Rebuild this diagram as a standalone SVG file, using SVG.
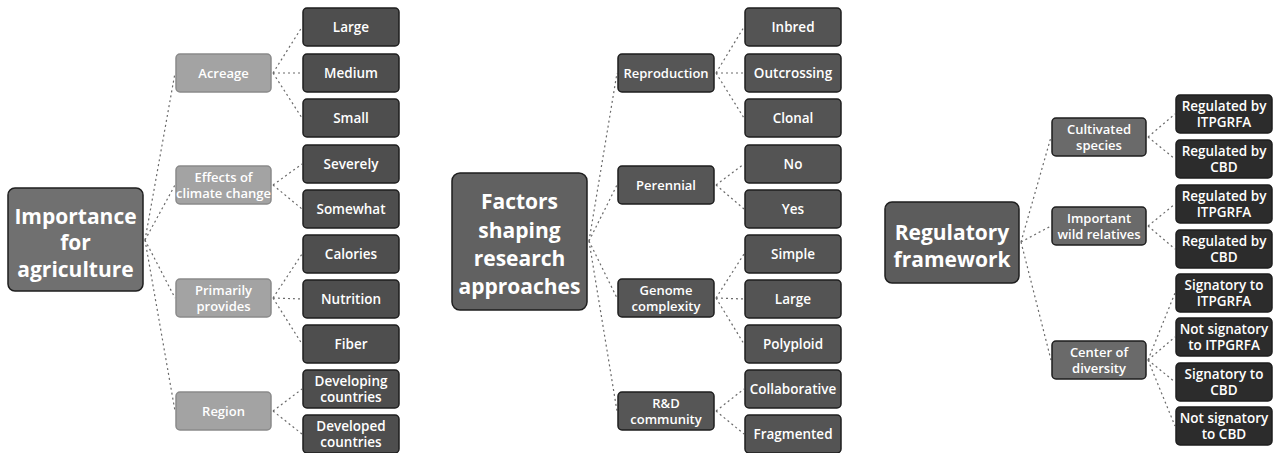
<svg xmlns="http://www.w3.org/2000/svg" width="1274" height="453" viewBox="0 0 1274 453">
<style>
g rect{stroke:#1e1e1e;stroke-width:1.5}
text{font-family:"Open Sans","Liberation Sans",sans-serif;fill:#fff;text-anchor:middle;dominant-baseline:central;font-weight:600}
.root text{font-size:21px;font-weight:700}
.l2 text{font-size:13px}
.lf text{font-size:13.5px}
.lroot rect{fill:#707070}
.ll2 rect{fill:#a3a3a3;stroke:#8a8a8a}
.llf rect{fill:#4e4e4e}
.mroot rect{fill:#616161}
.ml2 rect{fill:#565656}
.mlf rect{fill:#545454}
.rroot rect{fill:#5c5c5c}
.rl2 rect{fill:#6a6a6a}
.rlf rect{fill:#2c2c2c}
#connectors line{stroke:#6a6a6a;stroke-width:1.2;stroke-dasharray:2 3;fill:none}
</style>
<rect width="1274" height="453" style="fill:#fff;stroke:none"/>
<g id="connectors">
<line x1="145" y1="240" x2="175" y2="73"/>
<line x1="145" y1="240" x2="175" y2="185"/>
<line x1="145" y1="240" x2="175" y2="298"/>
<line x1="145" y1="240" x2="175" y2="411"/>
<line x1="273" y1="73" x2="302" y2="27"/>
<line x1="273" y1="73" x2="302" y2="73"/>
<line x1="273" y1="73" x2="302" y2="118"/>
<line x1="273" y1="185" x2="302" y2="164"/>
<line x1="273" y1="185" x2="302" y2="209"/>
<line x1="273" y1="298" x2="302" y2="254"/>
<line x1="273" y1="298" x2="302" y2="299"/>
<line x1="273" y1="298" x2="302" y2="344"/>
<line x1="273" y1="411" x2="302" y2="389"/>
<line x1="273" y1="411" x2="302" y2="434"/>
<line x1="589" y1="241" x2="617" y2="73"/>
<line x1="589" y1="241" x2="617" y2="185"/>
<line x1="589" y1="241" x2="617" y2="298"/>
<line x1="589" y1="241" x2="617" y2="411"/>
<line x1="716" y1="73" x2="744" y2="27"/>
<line x1="716" y1="73" x2="744" y2="73"/>
<line x1="716" y1="73" x2="744" y2="118"/>
<line x1="716" y1="185" x2="744" y2="164"/>
<line x1="716" y1="185" x2="744" y2="209"/>
<line x1="716" y1="298" x2="744" y2="254"/>
<line x1="716" y1="298" x2="744" y2="299"/>
<line x1="716" y1="298" x2="744" y2="344"/>
<line x1="716" y1="411" x2="744" y2="389"/>
<line x1="716" y1="411" x2="744" y2="434"/>
<line x1="1021" y1="242" x2="1051" y2="137"/>
<line x1="1021" y1="242" x2="1051" y2="226"/>
<line x1="1021" y1="242" x2="1051" y2="360"/>
<line x1="1148" y1="137" x2="1175" y2="114"/>
<line x1="1148" y1="137" x2="1175" y2="159"/>
<line x1="1148" y1="226" x2="1175" y2="204"/>
<line x1="1148" y1="226" x2="1175" y2="249"/>
<line x1="1148" y1="360" x2="1175" y2="293"/>
<line x1="1148" y1="360" x2="1175" y2="337"/>
<line x1="1148" y1="360" x2="1175" y2="382"/>
<line x1="1148" y1="360" x2="1175" y2="426"/>
</g>
<g id="n-importance" class="root lroot"><rect x="8" y="188" width="135" height="103" rx="7"/><text x="75.5" y="216">Importance</text><text x="75.5" y="242">for</text><text x="75.5" y="269">agriculture</text></g>
<g id="n-acreage" class="l2 ll2"><rect x="176" y="54" width="95" height="38" rx="4"/><text x="223.5" y="73">Acreage</text></g>
<g id="n-effects" class="l2 ll2"><rect x="176" y="166" width="95" height="38" rx="4"/><text x="223.5" y="177">Effects of</text><text x="223.5" y="193">climate change</text></g>
<g id="n-provides" class="l2 ll2"><rect x="176" y="279" width="95" height="38" rx="4"/><text x="223.5" y="290">Primarily</text><text x="223.5" y="306">provides</text></g>
<g id="n-region" class="l2 ll2"><rect x="176" y="392" width="95" height="38" rx="4"/><text x="223.5" y="411">Region</text></g>
<g id="n-large1" class="lf llf"><rect x="303" y="8" width="96" height="38" rx="4"/><text x="351" y="27">Large</text></g>
<g id="n-medium" class="lf llf"><rect x="303" y="54" width="96" height="38" rx="4"/><text x="351" y="73">Medium</text></g>
<g id="n-small" class="lf llf"><rect x="303" y="99" width="96" height="38" rx="4"/><text x="351" y="118">Small</text></g>
<g id="n-severely" class="lf llf"><rect x="303" y="145" width="96" height="38" rx="4"/><text x="351" y="164">Severely</text></g>
<g id="n-somewhat" class="lf llf"><rect x="303" y="190" width="96" height="38" rx="4"/><text x="351" y="209">Somewhat</text></g>
<g id="n-calories" class="lf llf"><rect x="303" y="235" width="96" height="38" rx="4"/><text x="351" y="254">Calories</text></g>
<g id="n-nutrition" class="lf llf"><rect x="303" y="280" width="96" height="38" rx="4"/><text x="351" y="299">Nutrition</text></g>
<g id="n-fiber" class="lf llf"><rect x="303" y="325" width="96" height="38" rx="4"/><text x="351" y="344">Fiber</text></g>
<g id="n-developing" class="lf llf"><rect x="303" y="370" width="96" height="38" rx="4"/><text x="351" y="381">Developing</text><text x="351" y="397">countries</text></g>
<g id="n-developed" class="lf llf"><rect x="303" y="415" width="96" height="38" rx="4"/><text x="351" y="426">Developed</text><text x="351" y="442">countries</text></g>
<g id="n-factors" class="root mroot"><rect x="452" y="173" width="135" height="137" rx="8"/><text x="519.5" y="201">Factors</text><text x="519.5" y="230">shaping</text><text x="519.5" y="258">research</text><text x="519.5" y="286">approaches</text></g>
<g id="n-reproduction" class="l2 ml2"><rect x="618" y="54" width="96" height="38" rx="4"/><text x="666" y="73">Reproduction</text></g>
<g id="n-perennial" class="l2 ml2"><rect x="618" y="166" width="96" height="38" rx="4"/><text x="666" y="185">Perennial</text></g>
<g id="n-genome" class="l2 ml2"><rect x="618" y="279" width="96" height="38" rx="4"/><text x="666" y="290">Genome</text><text x="666" y="306">complexity</text></g>
<g id="n-rd" class="l2 ml2"><rect x="618" y="392" width="96" height="38" rx="4"/><text x="666" y="403">R&amp;D</text><text x="666" y="419">community</text></g>
<g id="n-inbred" class="lf mlf"><rect x="745" y="8" width="96" height="38" rx="4"/><text x="793" y="27">Inbred</text></g>
<g id="n-outcrossing" class="lf mlf"><rect x="745" y="54" width="96" height="38" rx="4"/><text x="793" y="73">Outcrossing</text></g>
<g id="n-clonal" class="lf mlf"><rect x="745" y="99" width="96" height="38" rx="4"/><text x="793" y="118">Clonal</text></g>
<g id="n-no" class="lf mlf"><rect x="745" y="145" width="96" height="38" rx="4"/><text x="793" y="164">No</text></g>
<g id="n-yes" class="lf mlf"><rect x="745" y="190" width="96" height="38" rx="4"/><text x="793" y="209">Yes</text></g>
<g id="n-simple" class="lf mlf"><rect x="745" y="235" width="96" height="38" rx="4"/><text x="793" y="254">Simple</text></g>
<g id="n-large2" class="lf mlf"><rect x="745" y="280" width="96" height="38" rx="4"/><text x="793" y="299">Large</text></g>
<g id="n-polyploid" class="lf mlf"><rect x="745" y="325" width="96" height="38" rx="4"/><text x="793" y="344">Polyploid</text></g>
<g id="n-collaborative" class="lf mlf"><rect x="745" y="370" width="96" height="38" rx="4"/><text x="793" y="389">Collaborative</text></g>
<g id="n-fragmented" class="lf mlf"><rect x="745" y="415" width="96" height="38" rx="4"/><text x="793" y="434">Fragmented</text></g>
<g id="n-regulatory" class="root rroot"><rect x="885" y="202" width="134" height="81" rx="7"/><text x="952" y="232">Regulatory</text><text x="952" y="259">framework</text></g>
<g id="n-cultivated" class="l2 rl2"><rect x="1052" y="118" width="94" height="38" rx="4"/><text x="1099" y="129">Cultivated</text><text x="1099" y="145">species</text></g>
<g id="n-wild" class="l2 rl2"><rect x="1052" y="207" width="94" height="38" rx="4"/><text x="1099" y="218">Important</text><text x="1099" y="234">wild relatives</text></g>
<g id="n-center" class="l2 rl2"><rect x="1052" y="341" width="94" height="38" rx="4"/><text x="1099" y="352">Center of</text><text x="1099" y="368">diversity</text></g>
<g id="n-reg-itpgrfa1" class="lf rlf"><rect x="1176" y="95" width="96" height="38" rx="4"/><text x="1224" y="106">Regulated by</text><text x="1224" y="122">ITPGRFA</text></g>
<g id="n-reg-cbd1" class="lf rlf"><rect x="1176" y="140" width="96" height="38" rx="4"/><text x="1224" y="151">Regulated by</text><text x="1224" y="167">CBD</text></g>
<g id="n-reg-itpgrfa2" class="lf rlf"><rect x="1176" y="185" width="96" height="38" rx="4"/><text x="1224" y="196">Regulated by</text><text x="1224" y="212">ITPGRFA</text></g>
<g id="n-reg-cbd2" class="lf rlf"><rect x="1176" y="230" width="96" height="38" rx="4"/><text x="1224" y="241">Regulated by</text><text x="1224" y="257">CBD</text></g>
<g id="n-sig-itpgrfa" class="lf rlf"><rect x="1176" y="274" width="96" height="38" rx="4"/><text x="1224" y="285">Signatory to</text><text x="1224" y="301">ITPGRFA</text></g>
<g id="n-notsig-itpgrfa" class="lf rlf"><rect x="1176" y="318" width="96" height="38" rx="4"/><text x="1224" y="329">Not signatory</text><text x="1224" y="345">to ITPGRFA</text></g>
<g id="n-sig-cbd" class="lf rlf"><rect x="1176" y="363" width="96" height="38" rx="4"/><text x="1224" y="374">Signatory to</text><text x="1224" y="390">CBD</text></g>
<g id="n-notsig-cbd" class="lf rlf"><rect x="1176" y="407" width="96" height="38" rx="4"/><text x="1224" y="418">Not signatory</text><text x="1224" y="434">to CBD</text></g>
</svg>
